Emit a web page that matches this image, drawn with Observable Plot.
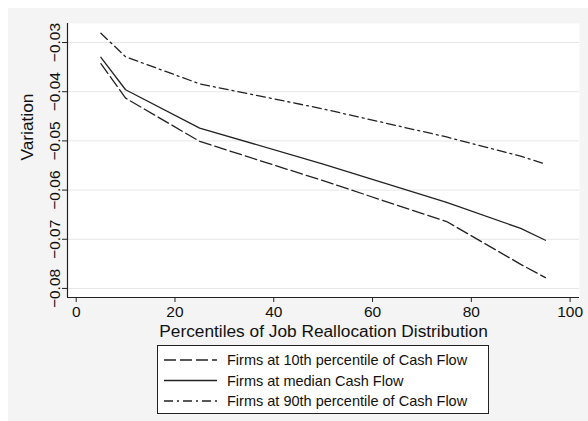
<!DOCTYPE html>
<html>
<head>
<meta charset="utf-8">
<script src="https://cdn.jsdelivr.net/npm/d3@7"></script>
<script src="https://cdn.jsdelivr.net/npm/@observablehq/plot@0.6"></script>
<style>
  html, body { margin: 0; padding: 0; background: #ffffff; }
  body { width: 588px; height: 421px; position: relative; overflow: hidden;
         font-family: "Liberation Sans", Arial, Helvetica, sans-serif; }
  #panel { position: absolute; left: 8px; top: 8px; width: 580px; height: 413px; background: #F3F4F3; }
  #chart { position: absolute; left: 0; top: 0; }
  #legend { position: absolute; left: 149px; top: 337px; width: 330px; height: 67px;
            background: #ffffff; border: 1px solid #222; }
</style>
</head>
<body>
<div id="panel">
  <div id="chart"></div>
  <div id="legend"></div>
</div>
<script>
// ---- data ----
const percentiles = [5, 10, 25, 50, 75, 90, 95];
const p10Values = [-0.0343, -0.0413, -0.0501, -0.0581, -0.0664, -0.0751, -0.0778];
const medianValues = [-0.0330, -0.0396, -0.0474, -0.0547, -0.0625, -0.0678, -0.0702];
const p90Values = [-0.0281, -0.0329, -0.0384, -0.0435, -0.0492, -0.0531, -0.0547];
const seriesNames = [
  "Firms at 10th percentile of Cash Flow",
  "Firms at median Cash Flow",
  "Firms at 90th percentile of Cash Flow"
];
const xTicks = [0, 20, 40, 60, 80, 100];
const yTicks = [-0.03, -0.04, -0.05, -0.06, -0.07, -0.08];
const xTitle = "Percentiles of Job Reallocation Distribution";
const yTitle = "Variation";

// ---- styles ----
const dashes = ["12,4", null, "9,4,2,4"];
const ink = "#222";
const font = "'Liberation Sans', Arial, Helvetica, sans-serif";

const seriesValues = [p10Values, medianValues, p90Values];
const rows = [];
seriesNames.forEach((name, i) => {
  percentiles.forEach((p, j) => rows.push({series: name, x: p, y: seriesValues[i][j]}));
});

const xDomain = [-1.76, 101.9];
const yDomain = [-0.08184, -0.02613];

const chart = Plot.plot({
  width: 580,
  height: 340,
  marginLeft: 59,
  marginRight: 9,
  marginTop: 15,
  marginBottom: 51,
  style: {background: "transparent", fontFamily: font, color: "#111"},
  x: {domain: xDomain},
  y: {domain: yDomain},
  marks: [
    Plot.frame({fill: "white", stroke: null}),
    Plot.gridY(yTicks, {stroke: "#e6e6e6", strokeOpacity: 1, strokeWidth: 1}),
    ...seriesNames.map((name, i) => Plot.line(rows.filter(d => d.series === name), {
      x: "x", y: "y", stroke: ink, strokeWidth: 1.3,
      strokeDasharray: dashes[i] ?? undefined
    })),
    Plot.ruleX([xDomain[0]], {stroke: ink, strokeWidth: 1.2}),
    Plot.ruleY([yDomain[0]], {stroke: ink, strokeWidth: 1.2}),
    Plot.axisX(xTicks, {tickSize: 5, tickPadding: 3, fontSize: 15.5, label: null, stroke: ink}),
    Plot.axisY(yTicks, {tickSize: 5, tickPadding: 3, tickRotate: -90, fontSize: 15.5, label: null,
      tickFormat: d => d3.format(".2f")(d), stroke: ink}),
    Plot.text([xTitle], {frameAnchor: "bottom", dy: 39, fontSize: 17.3, fill: "#111"}),
    Plot.text([yTitle], {frameAnchor: "left", dx: -40, rotate: -90, fontSize: 17.3, fill: "#111"})
  ]
});
document.getElementById("chart").appendChild(chart);

// ---- legend ----
const lg = d3.select("#legend").append("svg")
  .attr("width", 330).attr("height", 67)
  .style("display", "block");
const rowY = [14, 34.5, 55];
seriesNames.forEach((name, i) => {
  const g = lg.append("g");
  g.append("line").attr("x1", 6).attr("x2", 59).attr("y1", rowY[i]).attr("y2", rowY[i])
    .attr("stroke", ink).attr("stroke-width", 1.3)
    .attr("stroke-dasharray", dashes[i] ?? null);
  g.append("text").attr("x", 69).attr("y", rowY[i]).attr("dy", "0.35em")
    .attr("font-family", font).attr("font-size", 14.5).attr("fill", "#111")
    .text(name);
});
</script>
</body>
</html>
